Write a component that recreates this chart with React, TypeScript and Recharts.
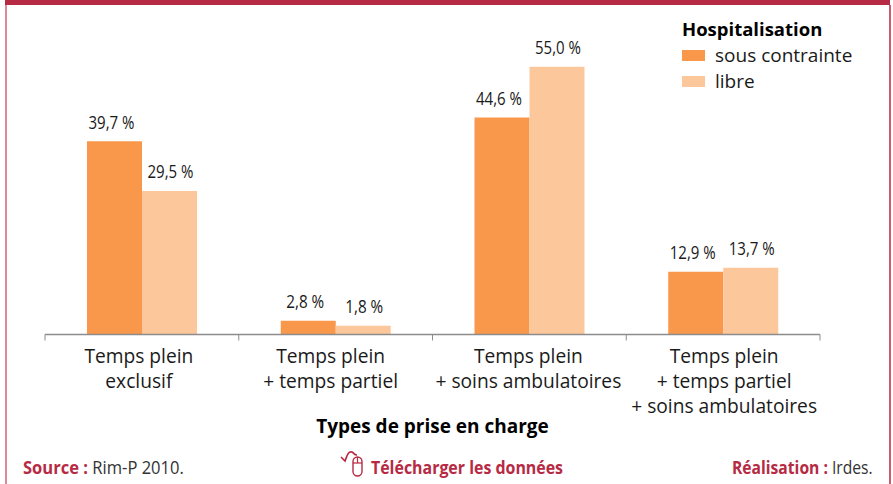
import React from "react";
import { BarChart, Bar, XAxis, YAxis, LabelList, Legend } from "recharts";

const categories = [
  ["Temps plein", "exclusif"],
  ["Temps plein", "+ temps partiel"],
  ["Temps plein", "+ soins ambulatoires"],
  ["Temps plein", "+ temps partiel", "+ soins ambulatoires"],
];
const sousContrainte = [39.7, 2.8, 44.6, 12.9];
const libre = [29.5, 1.8, 55.0, 13.7];
const data = categories.map((c, i) => ({
  name: c.join("|"),
  sous: sousContrainte[i],
  libre: libre[i],
}));

const SANS = "'Open Sans', 'Noto Sans', sans-serif";
const DARK = "#1a1a1a";
const RED = "#b72a44";
const ORANGE = "#f9974b";
const PEACH = "#fdc79c";
const BAND = 193.75;
const tickNudge = [-3, -5, -1, 1];

const Tick = (props: any) => {
  const { x, y, payload, index } = props;
  const lines = String(payload.value).split("|");
  return (
    <g>
      <line x1={x - BAND / 2} x2={x - BAND / 2} y1={y - 8} y2={y - 2} stroke="#8c8c8c" />
      {index === categories.length - 1 && (
        <line x1={x + BAND / 2} x2={x + BAND / 2} y1={y - 8} y2={y - 2} stroke="#8c8c8c" />
      )}
      <text textAnchor="middle" fontFamily={SANS} fontSize={19.2} fill={DARK}>
        {lines.map((l, i) => (
          <tspan key={i} x={x + tickNudge[index]} y={y + 20 + i * 25}>
            {l}
          </tspan>
        ))}
      </text>
    </g>
  );
};

const makeLabel = (dx: number) => (props: any) => {
  const { x, y, width, value } = props;
  const s = value.toFixed(1).replace(".", ",") + " %";
  return (
    <text
      x={x + width / 2 + dx}
      y={y - 12.5}
      textAnchor="middle"
      fontFamily={SANS}
      fontSize={18}
      fill={DARK}
      textLength={s.length === 6 ? 46 : 38}
      lengthAdjust="spacingAndGlyphs"
    >
      {s}
    </text>
  );
};

const LegendBox = () => (
  <div style={{ fontFamily: SANS, color: DARK, fontSize: 19, lineHeight: "26px" }}>
    <div style={{ fontWeight: 700, fontSize: 18.5, color: "#000" }}>Hospitalisation</div>
    {[
      ["sous contrainte", ORANGE],
      ["libre", PEACH],
    ].map(([t, c]) => (
      <div key={t} style={{ display: "flex", alignItems: "center" }}>
        <span style={{ width: 23, height: 11, background: c, marginRight: 10 }} />
        {t}
      </div>
    ))}
  </div>
);

const Foot = ({ x, sx, children }: any) => (
  <text
    transform={`translate(${x},474) scale(${sx},1)`}
    fontFamily={SANS}
    fontSize={18}
    fill="#333"
  >
    {children}
  </text>
);
const Strong = ({ children }: any) => (
  <tspan fontWeight={700} fill={RED}>
    {children}
  </tspan>
);

export default function App() {
  return (
    <div
      style={{
        position: "absolute",
        left: 0,
        top: 0,
        width: 893,
        height: 484,
        background: "#fff",
        overflow: "hidden",
      }}
    >
      <div style={{ position: "absolute", left: 5, top: 0, width: 885, height: 5, background: RED }} />
      <div style={{ position: "absolute", left: 5, top: 5, width: 2, height: 479, background: "#dc8a9c" }} />
      <div style={{ position: "absolute", left: 889, top: 5, width: 2, height: 479, background: "#cf5a72" }} />
      <BarChart
        width={893}
        height={484}
        data={data}
        barSize={55}
        barGap={0}
        margin={{ top: 42.5, right: 73, bottom: 49.5, left: 45 }}
        style={{ position: "absolute", left: 0, top: 0 }}
      >
        <YAxis hide domain={[0, 60]} />
        <XAxis
          dataKey="name"
          height={100}
          interval={0}
          axisLine={{ stroke: "#8c8c8c", strokeWidth: 1.5 }}
          tickLine={false}
          tick={<Tick />}
          label={{
            value: "Types de prise en charge",
            position: "insideBottom",
            offset: 2,
            fontFamily: SANS,
            fontSize: 19,
            fontWeight: 700,
            fill: "#000",
          }}
        />
        <Legend
          layout="vertical"
          align="center"
          verticalAlign="middle"
          content={<LegendBox />}
          wrapperStyle={{ position: "absolute", left: 682, top: 16, width: 200, bottom: "auto" }}
        />
        <Bar dataKey="sous" fill={ORANGE} isAnimationActive={false}>
          <LabelList dataKey="sous" content={makeLabel(-3)} />
        </Bar>
        <Bar dataKey="libre" fill={PEACH} isAnimationActive={false}>
          <LabelList dataKey="libre" content={makeLabel(1)} />
        </Bar>
      </BarChart>
      <svg style={{ position: "absolute", left: 0, top: 0 }} width={893} height={484}>
        <Foot x={23} sx={0.92}><Strong>Source : </Strong>Rim-P 2010.</Foot>
        <Foot x={371} sx={0.885}><Strong>Télécharger les données</Strong></Foot>
        <Foot x={732} sx={0.87}><Strong>Réalisation : </Strong>Irdes.</Foot>
        <g transform="translate(338,448)">
          <path d="M3 9 L7 13 C9 8 10 3 14 4 C16 5 16 7 19 7" fill="none" stroke={RED} strokeWidth={1.6} />
          <rect x={15} y={9} width={9} height={19} rx={4.5} fill="none" stroke={RED} strokeWidth={1.4} />
          <line x1={15} x2={24} y1={15} y2={15} stroke={RED} strokeWidth={1.2} />
          <line x1={19.5} x2={19.5} y1={9} y2={15} stroke={RED} strokeWidth={1.2} />
        </g>
      </svg>
    </div>
  );
}
